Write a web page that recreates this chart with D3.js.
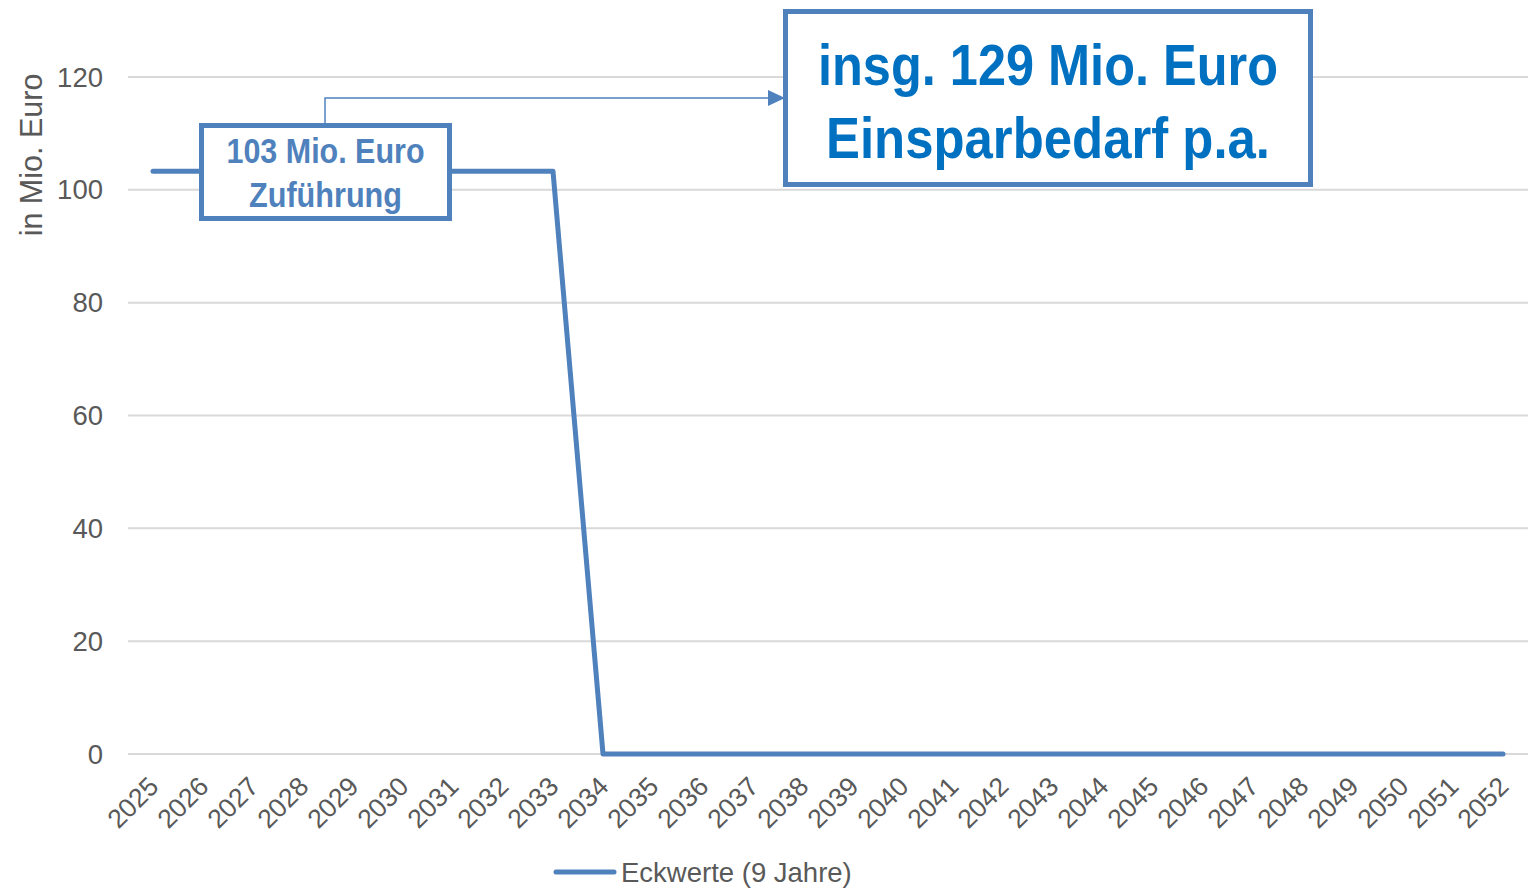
<!DOCTYPE html>
<html>
<head>
<meta charset="utf-8">
<title>Eckwerte</title>
<script src="https://d3js.org/d3.v7.min.js"></script>
<style>
  body { margin: 0; background: #fff; }
  .tick-label { font-family: Arial, "Liberation Sans", sans-serif; font-size: 27.5px; fill: #595959; }
  .box-text { font-family: "Arial Narrow", Arial, "Liberation Sans", sans-serif; font-weight: bold; }
</style>
</head>
<body>
<script>
  // data
  const years = d3.range(2025, 2053).map(String);
  const values = [103.3, 103.3, 103.3, 103.3, 103.3, 103.3, 103.3, 103.3, 103.3,
                  0, 0, 0, 0, 0, 0, 0, 0, 0, 0, 0, 0, 0, 0, 0, 0, 0, 0, 0];
  const yTicks = [0, 20, 40, 60, 80, 100, 120];
  const seriesName = 'Eckwerte (9 Jahre)';
  const yTitle = 'in Mio. Euro';
  const box1Lines = ['103 Mio. Euro', 'Zuführung'];
  const box2Lines = ['insg. 129 Mio. Euro', 'Einsparbedarf p.a.'];

  const width = 1533, height = 888;
  const blue = '#4F81BD';
  const svg = d3.select('body').append('svg').attr('width', width).attr('height', height);

  const x = d3.scaleBand().domain(years).range([128, 1528]);
  const y = d3.scaleLinear().domain([0, 120]).range([754, 77]);
  const cx = d => x(d) + x.bandwidth() / 2;

  // gridlines
  svg.append('g').selectAll('line').data(yTicks).enter().append('line')
     .attr('x1', 128).attr('x2', 1528)
     .attr('y1', d => y(d)).attr('y2', d => y(d))
     .attr('stroke', '#D9D9D9').attr('stroke-width', 2);

  // y tick labels
  svg.append('g').selectAll('text').data(yTicks).enter().append('text')
     .classed('tick-label', true)
     .attr('x', 103).attr('y', d => y(d)).attr('dy', '0.35em')
     .attr('text-anchor', 'end').text(d => d);

  // y title
  svg.append('text').classed('tick-label', true)
     .style('font-size', '30.5px')
     .attr('transform', 'translate(42,155) rotate(-90)')
     .attr('text-anchor', 'middle').text(yTitle);

  // x labels
  svg.append('g').selectAll('text').data(years).enter().append('text')
     .classed('tick-label', true).style('font-size', '26.5px')
     .attr('text-anchor', 'end')
     .attr('transform', d => 'translate(' + (cx(d) - 6) + ',775) rotate(-45)')
     .attr('dy', '0.7em')
     .text(d => d);

  // line
  const line = d3.line().x((d, i) => cx(years[i])).y(d => y(d));
  svg.append('path').datum(values).attr('d', line)
     .attr('fill', 'none').attr('stroke', blue).attr('stroke-width', 5)
     .attr('stroke-linejoin', 'round').attr('stroke-linecap', 'round');

  // connector arrow
  svg.append('polyline').attr('points', '325,124 325,98 770,98')
     .attr('fill', 'none').attr('stroke', blue).attr('stroke-width', 1.5);
  svg.append('path').attr('d', 'M768,90 L785,98 L768,106 Z').attr('fill', blue);

  // boxes
  function box(bx, by, bw, bh, lines, fs, baselines, widths, color) {
    svg.append('rect').attr('x', bx).attr('y', by).attr('width', bw).attr('height', bh)
       .attr('fill', '#fff').attr('stroke', blue).attr('stroke-width', 5);
    lines.forEach((t, i) => {
      svg.append('text').classed('box-text', true)
         .attr('x', bx + bw / 2).attr('y', baselines[i])
         .attr('text-anchor', 'middle')
         .attr('textLength', widths[i]).attr('lengthAdjust', 'spacingAndGlyphs')
         .style('font-size', fs + 'px').attr('fill', color).text(t);
    });
  }
  box(201.5, 125.5, 248, 93, box1Lines, 35, [163, 207], [198, 153], '#4F81BD');
  box(785.5, 11.5, 525, 173, box2Lines, 58, [85, 158], [460, 444], '#0070C0');

  // legend
  svg.append('line').attr('x1', 556).attr('x2', 614).attr('y1', 872).attr('y2', 872)
     .attr('stroke', blue).attr('stroke-width', 5).attr('stroke-linecap', 'round');
  svg.append('text').classed('tick-label', true)
     .attr('x', 621).attr('y', 872).attr('dy', '0.35em').text(seriesName);
</script>
</body>
</html>
